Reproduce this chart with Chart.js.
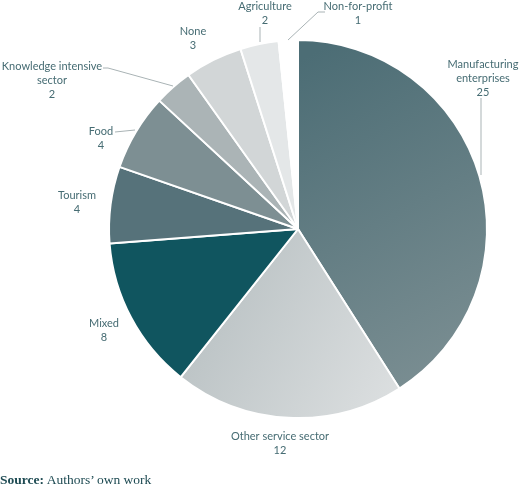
<!DOCTYPE html>
<html>
<head>
<meta charset="utf-8">
<script src="https://cdn.jsdelivr.net/npm/chart.js@4"></script>
<style>
  html,body{margin:0;padding:0;background:#fff;}
  #wrap{position:relative;width:520px;height:489px;}
  #c{position:absolute;left:0;top:0;}
  #src{position:absolute;left:0;top:472px;font-family:"Liberation Serif","Times New Roman",serif;font-size:13.5px;color:#1d4a52;white-space:nowrap;}
</style>
</head>
<body>
<div id="wrap">
  <canvas id="c" width="520" height="489"></canvas>
  <div id="src"><b>Source:</b> Authors’ own work</div>
</div>
<script>
// ---- data ----
const categories = ["Manufacturing enterprises","Other service sector","Mixed","Tourism","Food","Knowledge intensive sector","None","Agriculture","Non-for-profit"];
const values = [25, 12, 8, 4, 4, 2, 3, 2, 1];
const labelLines = [
  ["Manufacturing","enterprises"],
  ["Other service sector"],
  ["Mixed"],
  ["Tourism"],
  ["Food"],
  ["Knowledge intensive","sector"],
  ["None"],
  ["Agriculture"],
  ["Non-for-profit"]
];

// ---- layout (label anchors and leader lines) ----
const labelLayout = [
  {x:483, y:64, leader:[[481,98],[481,175]]},
  {x:280, y:436},
  {x:104, y:323},
  {x:77,  y:195},
  {x:101, y:131, leader:[[115,132],[135,130]]},
  {x:52,  y:66,  leader:[[103,68],[108,68],[173,86]]},
  {x:193, y:31},
  {x:265, y:6,   leader:[[260,27],[260,42]]},
  {x:358, y:6,   leader:[[325,12],[318,12],[288,40]]}
];
const solidColors = [null, null, "#10555f", "#56727a", "#7d8f93", "#abb4b6", "#d2d6d7", "#e4e7e8", "#ffffff"];

function sliceColor(ctx){
  const i = ctx.dataIndex;
  const chart = ctx.chart;
  const c = chart.ctx;
  if (i === 0) {
    const g = c.createLinearGradient(300, 60, 470, 380);
    g.addColorStop(0, "#4c6d75");
    g.addColorStop(1, "#7c8f93");
    return g;
  }
  if (i === 1) {
    const g = c.createLinearGradient(190, 300, 400, 410);
    g.addColorStop(0, "#b9c1c3");
    g.addColorStop(1, "#dde0e1");
    return g;
  }
  return solidColors[i];
}

const labelPlugin = {
  id: "outLabels",
  afterDatasetsDraw(chart){
    const c = chart.ctx;
    c.save();
    c.strokeStyle = "#a9b3b5";
    c.lineWidth = 1;
    labelLayout.forEach(l => {
      if (!l.leader) return;
      c.beginPath();
      l.leader.forEach((p, k) => k ? c.lineTo(p[0], p[1]) : c.moveTo(p[0], p[1]));
      c.stroke();
    });
    c.fillStyle = "#466c73";
    c.font = "11px Lato, 'Open Sans', sans-serif";
    c.textAlign = "center";
    c.textBaseline = "middle";
    values.forEach((v, i) => {
      const l = labelLayout[i];
      const lines = labelLines[i].concat([String(v)]);
      lines.forEach((t, k) => c.fillText(t, l.x, l.y + k * 14));
    });
    c.restore();
  }
};

new Chart(document.getElementById("c"), {
  type: "pie",
  data: {
    labels: categories,
    datasets: [{
      data: values,
      backgroundColor: sliceColor,
      borderColor: "#ffffff",
      borderWidth: 2
    }]
  },
  options: {
    responsive: false,
    animation: false,
    layout: {padding: {left: 108, right: 32, top: 39, bottom: 70}},
    plugins: {legend: {display: false}, tooltip: {enabled: false}}
  },
  plugins: [labelPlugin]
});
</script>
</body>
</html>
